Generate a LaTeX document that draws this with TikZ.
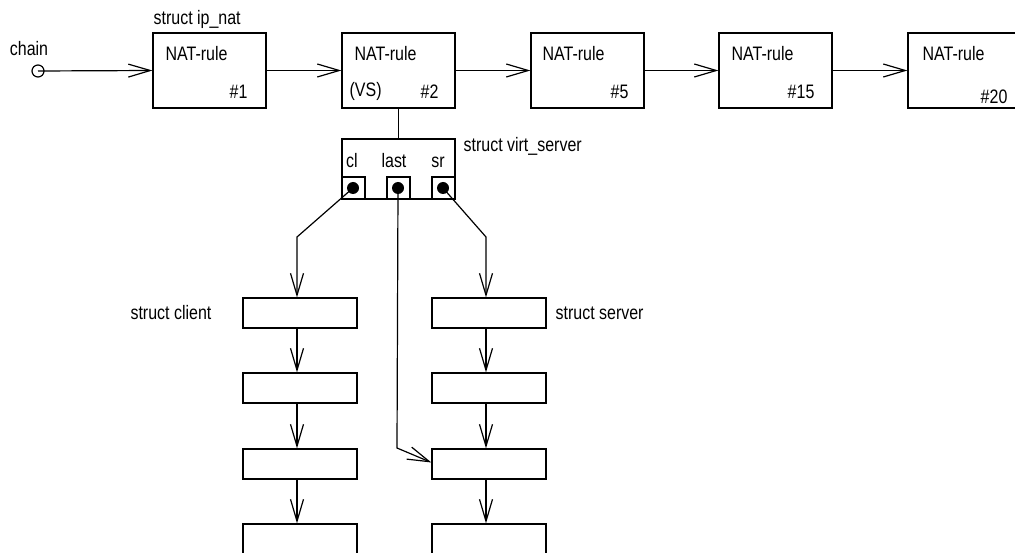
\documentclass[tikz,border=0pt]{standalone}
\usepackage{fontspec}
\setmainfont[FakeStretch=0.82]{Liberation Sans}
\usetikzlibrary{arrows.meta}
\begin{document}
\begin{tikzpicture}[x=1pt,y=-1pt,
  line width=1.2pt,
  every node/.style={font=\fontsize{19.5}{22}\selectfont, inner sep=0pt},
  rule/.style={draw, minimum width=113pt, minimum height=75pt},
  listbox/.style={draw, minimum width=114pt, minimum height=30pt},
  slot/.style={draw, minimum width=23pt, minimum height=22pt},
  dot/.style={circle, fill=black, minimum size=12pt},
  ptr/.style={-{Straight Barb[length=22pt,width=13pt]}}
]
\useasboundingbox (0,0) rectangle (1015,553);

% chain of NAT rules
\node[circle, draw, minimum size=12pt] (chain) at (38,71) {};
\node[anchor=base] at (29,56) {chain};
\node[anchor=base west] at (153,25) {struct ip\_nat};

\node[rule] (r1) at (209.5,70.5) {};
\node[rule] (r2) at (398.5,70.5) {};
\node[rule] (r3) at (587.5,70.5) {};
\node[rule] (r4) at (775.5,70.5) {};
\node[rule] (r5) at (964.5,70.5) {};

\node[anchor=base west] at (165,61) {NAT-rule};
\node[anchor=base west] at (354,61) {NAT-rule};
\node[anchor=base west] at (542,61) {NAT-rule};
\node[anchor=base west] at (731,61) {NAT-rule};
\node[anchor=base west] at (922,61) {NAT-rule};

\node[anchor=base east] at (248,99) {\#1};
\node[anchor=base west] at (349,97) {(VS)};
\node[anchor=base east] at (439,99) {\#2};
\node[anchor=base east] at (629,99) {\#5};
\node[anchor=base east] at (815,99) {\#15};
\node[anchor=base east] at (1008,104) {\#20};

\draw[ptr] (chain.center) -- (r1.west);
\draw[ptr] (r1.east) -- (r2.west);
\draw[ptr] (r2.east) -- (r3.west);
\draw[ptr] (r3.east) -- (r4.west);
\draw[ptr] (r4.east) -- (r5.west);

% virtual server record
\node[draw, minimum width=113pt, minimum height=60pt] (vs) at (398.5,169) {};
\node[anchor=base west] at (463,152) {struct virt\_server};
\draw (r2.south) -- (vs.north);

\node[slot] (scl) at (353.5,188) {};
\node[slot] (slast) at (398.5,188) {};
\node[slot] (ssr) at (443.5,188) {};
\node[dot] (dcl) at (353,188) {};
\node[dot] (dlast) at (398,188) {};
\node[dot] (dsr) at (443,188) {};
\node[anchor=base] at (352,168) {cl};
\node[anchor=base] at (394,168) {last};
\node[anchor=base] at (438,168) {sr};

% client list
\node[listbox] (c1) at (300,313) {};
\node[listbox] (c2) at (300,388) {};
\node[listbox] (c3) at (300,464) {};
\node[listbox] (c4) at (300,539) {};
\node[anchor=base east] at (212,320) {struct client};

% server list
\node[listbox] (s1) at (489,313) {};
\node[listbox] (s2) at (489,388) {};
\node[listbox] (s3) at (489,464) {};
\node[listbox] (s4) at (489,539) {};
\node[anchor=base west] at (555,320) {struct server};

\coordinate (clbend) at (297,237);
\coordinate (srbend) at (486,237);
\coordinate (lastbend) at (397,448);

\draw[ptr] (dcl.center) -- (clbend) -- ([xshift=-3pt]c1.north);
\draw[ptr] (dsr.center) -- (srbend) -- ([xshift=-3pt]s1.north);
\draw[ptr] (dlast.center) -- (lastbend) -- ([yshift=1.5pt]s3.west);

\draw[ptr] ([xshift=-3pt]c1.south) -- ([xshift=-3pt]c2.north);
\draw[ptr] ([xshift=-3pt]c2.south) -- ([xshift=-3pt]c3.north);
\draw[ptr] ([xshift=-3pt]c3.south) -- ([xshift=-3pt]c4.north);
\draw[ptr] ([xshift=-3pt]s1.south) -- ([xshift=-3pt]s2.north);
\draw[ptr] ([xshift=-3pt]s2.south) -- ([xshift=-3pt]s3.north);
\draw[ptr] ([xshift=-3pt]s3.south) -- ([xshift=-3pt]s4.north);
\end{tikzpicture}
\end{document}
